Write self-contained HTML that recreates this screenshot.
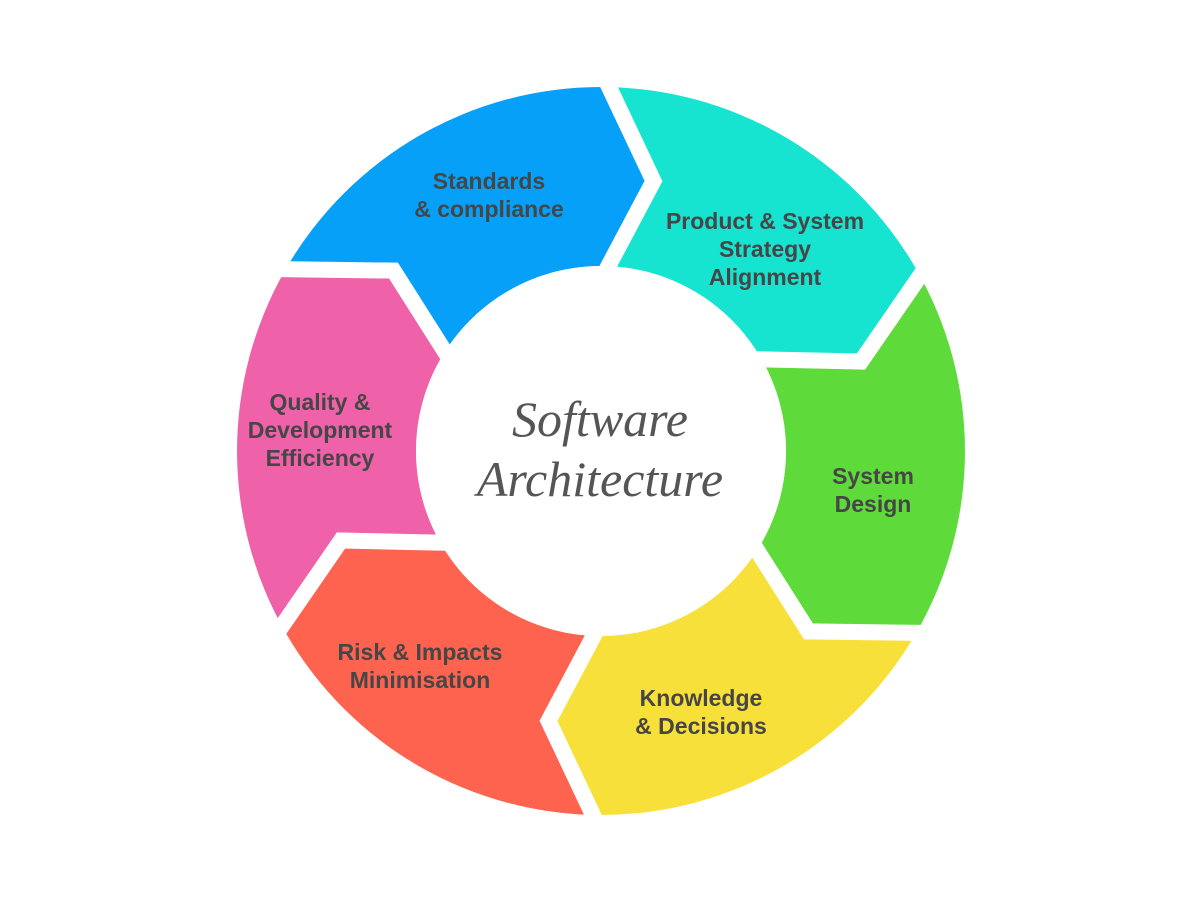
<!DOCTYPE html>
<html><head><meta charset="utf-8"><style>
html,body{margin:0;padding:0;background:#fff;}
svg{display:block;}
.l{font-family:"Liberation Sans",sans-serif;font-weight:bold;font-size:23px;fill:#464646;text-anchor:middle;}
.c{font-family:"Liberation Serif",serif;font-style:italic;font-size:50px;fill:#555;text-anchor:middle;}
</style></head><body>
<svg width="1200" height="902" viewBox="0 0 1200 902" xmlns="http://www.w3.org/2000/svg">
<rect width="1200" height="902" fill="#fff"/>
<path d="M285.8,269 A364,364 0 0 1 601,87 L653.5,181.1 L601,266 A185,185 0 0 0 440.8,358.5 L393.5,270.6 Z" fill="#07a0f8"/>
<path d="M601,87 A364,364 0 0 1 916.2,269 L861,361.5 L761.2,358.5 A185,185 0 0 0 601,266 L653.5,181.1 Z" fill="#16e4d0"/>
<path d="M916.2,269 A364,364 0 0 1 916.2,633 L808.5,631.4 L761.2,543.5 A185,185 0 0 0 761.2,358.5 L861,361.5 Z" fill="#5edb3b"/>
<path d="M916.2,633 A364,364 0 0 1 601,815 L548.5,720.9 L601,636 A185,185 0 0 0 761.2,543.5 L808.5,631.4 Z" fill="#f8e03a"/>
<path d="M601,815 A364,364 0 0 1 285.8,633 L341,540.5 L440.8,543.5 A185,185 0 0 0 601,636 L548.5,720.9 Z" fill="#fe634f"/>
<path d="M285.8,633 A364,364 0 0 1 285.8,269 L393.5,270.6 L440.8,358.5 A185,185 0 0 0 440.8,543.5 L341,540.5 Z" fill="#ef61a9"/>
<g fill="none" stroke="#fff" stroke-width="16" stroke-linejoin="miter" stroke-miterlimit="10">
<polyline points="601,70 653.5,181.1 601,280"/>
<polyline points="931,260 861,361.5 747,359"/>
<polyline points="931,633 808.5,631.4 748,536"/>
<polyline points="601,832 548.5,720.9 601,622"/>
<polyline points="271,642 341,540.5 455,543"/>
<polyline points="271,269 393.5,270.6 454,366"/>
</g>
<circle cx="601" cy="451" r="185" fill="#fff"/>
<text class="l" x="489" y="189">Standards</text>
<text class="l" x="489" y="217">&amp; compliance</text>
<text class="l" x="765" y="229">Product &amp; System</text>
<text class="l" x="765" y="257">Strategy</text>
<text class="l" x="765" y="285">Alignment</text>
<text class="l" x="873" y="484">System</text>
<text class="l" x="873" y="512">Design</text>
<text class="l" x="701" y="706">Knowledge</text>
<text class="l" x="701" y="734">&amp; Decisions</text>
<text class="l" x="420" y="660">Risk &amp; Impacts</text>
<text class="l" x="420" y="688">Minimisation</text>
<text class="l" x="320" y="410">Quality &amp;</text>
<text class="l" x="320" y="438">Development</text>
<text class="l" x="320" y="466">Efficiency</text>
<text class="c" x="600" y="436">Software</text>
<text class="c" x="600" y="496">Architecture</text>
</svg>
</body></html>
